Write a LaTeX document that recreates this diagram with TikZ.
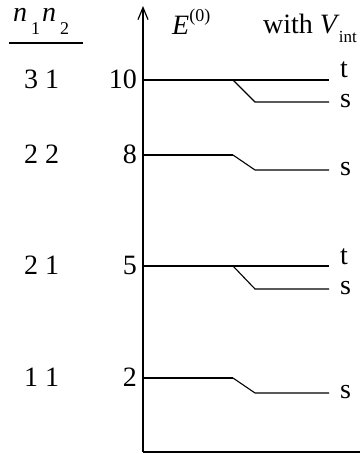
\documentclass[tikz,border=0pt]{standalone}
\usepackage{fontspec}
\setmainfont{Liberation Serif}
\usetikzlibrary{arrows.meta}
\newcommand{\subsz}{\fontsize{18}{18}\selectfont}
\begin{document}
\begin{tikzpicture}[x=1pt,y=-1pt,
  lbl/.style={font=\fontsize{28}{32}\selectfont, inner sep=0pt},
  axis/.style={line width=1.2pt},
  lvl/.style={line width=1.1pt}]
\useasboundingbox (0,0) rectangle (360,454);
% axes
\coordinate (o) at (143,452);
\coordinate (top) at (143,6);
\coordinate (xend) at (360,452);
\draw[axis,-{Straight Barb[length=12pt,width=10pt]}] (o) -- (top);
\draw[axis] (o) -- (xend);
% header
\node[lbl, anchor=base west] (hdr) at (13,22) {\textit{n}\hspace{4pt}\raisebox{-13pt}{\subsz 1}\hspace{2pt}\textit{n}\hspace{4pt}\raisebox{-13pt}{\subsz 2}};
\coordinate (hl) at (9,43);
\coordinate (hr) at (83,43);
\draw[lvl] (hl) -- (hr);
\node[lbl, anchor=base west] (E) at (172,35) {\textit{E}\raisebox{13pt}{\subsz(0)}};
\node[lbl, anchor=base west] (with) at (263,34) {with \textit{V}\hspace{-1pt}\raisebox{-9pt}{\fontsize{17}{17}\selectfont int}};
% levels
\foreach \nm/\y/\d/\lab/\num in {a/80/22/3 1/10, b/155/15/2 2/8, c/266/23/2 1/5, d/378/15/1 1/2}{
  \coordinate (\nm0) at (143,\y);
  \coordinate (\nm1) at (233,\y);
  \coordinate (\nm2) at (255,\y+\d);
  \coordinate (\nm3) at (329,\y+\d);
  \draw[lvl] (\nm1) -- (\nm2) -- (\nm3);
  \node[lbl] (\nm L) at (41.5,\y-1) {\lab};
  \node[lbl, anchor=east] (\nm N) at (137,\y-1) {\num};
  \node[lbl, anchor=west] (\nm s) at (340,\y+\d-1) {s};
}
% singlet-only levels: flat part
\foreach \nm in {b, d}{
  \draw[lvl] (\nm0) -- (\nm1);
}
% triplet lines
\foreach \nm/\y in {a/80, c/266}{
  \coordinate (\nm t3) at (329,\y);
  \draw[lvl] (\nm0) -- (\nm t3);
  \node[lbl, anchor=base west] (\nm t) at (340,\y-2) {t};
}
\end{tikzpicture}
\end{document}
